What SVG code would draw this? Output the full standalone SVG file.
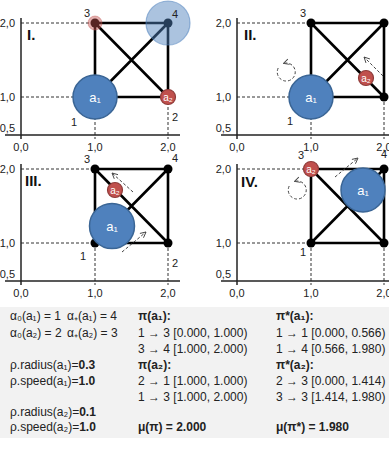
<svg xmlns="http://www.w3.org/2000/svg" width="389" height="449" viewBox="0 0 389 449">
<style>
text{font-family:"Liberation Sans",Arial,sans-serif;fill:#222}
.ax{stroke:#222;stroke-width:1.5;fill:none}
.gd{stroke:#333;stroke-width:1;stroke-dasharray:3,2;fill:none}
.ed{stroke:#000;stroke-width:2.6;fill:none}
.dot{fill:#000}
.tl{font-size:11px}
.nl{font-size:11px}
.rn{font-size:15px;font-weight:bold;fill:#111}
.a1{fill:#4F81BD;stroke:#3A6595;stroke-width:1.5}
.a2{fill:#C0504D;stroke:#8E3B39;stroke-width:1.2}
.at{fill:#fff;text-anchor:middle}
.mv{stroke:#444;stroke-width:1;stroke-dasharray:3,2;fill:none;marker-end:url(#ah)}
.bt{font-size:12px}
.b{font-weight:bold}
</style>
<defs>
<marker id="ah" viewBox="0 0 10 10" refX="9" refY="5" markerWidth="7" markerHeight="7" markerUnits="userSpaceOnUse" orient="auto"><path d="M1,1 L9,5 L1,9" fill="none" stroke="#444" stroke-width="1.3"/></marker>
<g id="base">
<path class="gd" d="M21,23 H95 M21,97 H95 M95,97 V139 M168,97 V139"/>
<line class="ax" x1="21" y1="18" x2="21" y2="139"/>
<line class="ax" x1="5" y1="135" x2="180" y2="135"/>
<text class="tl" x="15" y="27" text-anchor="end">2,0</text>
<text class="tl" x="15" y="101" text-anchor="end">1,0</text>
<text class="tl" x="15" y="132" text-anchor="end">0,5</text>
<text class="tl" x="21" y="151" text-anchor="middle">0,0</text>
<text class="tl" x="95" y="151" text-anchor="middle">1,0</text>
<text class="tl" x="168" y="151" text-anchor="middle">2,0</text>
<path class="ed" d="M95,23 H168 V97 H95 Z M95,23 L168,97 M95,97 L168,23"/>
<circle class="dot" cx="95" cy="23" r="4.5"/>
<circle class="dot" cx="168" cy="23" r="4.5"/>
<circle class="dot" cx="95" cy="97" r="4.5"/>
<circle class="dot" cx="168" cy="97" r="4.5"/>
</g>
</defs>

<rect x="0" y="307" width="389" height="131" fill="#f2f2f2"/>

<g id="panel-I">
<use href="#base"/>
<circle cx="168" cy="23" r="22" fill="#4F81BD" fill-opacity="0.48" stroke="#4F81BD" stroke-opacity="0.55" stroke-width="1.2"/>
<circle cx="95" cy="23" r="7" fill="#C0504D" fill-opacity="0.45" stroke="#C0504D" stroke-opacity="0.4"/>
<circle class="a1" cx="95" cy="97" r="22"/>
<text class="at" x="95" y="101.5" font-size="13">a₁</text>
<circle class="a2" cx="168" cy="97" r="7.5"/>
<text class="at" x="168" y="100.5" font-size="10">a₂</text>
<text class="nl" x="84" y="17">3</text>
<text class="nl" x="172" y="18">4</text>
<text class="nl" x="71" y="126">1</text>
<text class="nl" x="172" y="121">2</text>
<text class="rn" x="27" y="40">I.</text>
</g>

<g id="panel-II" transform="translate(216,0)">
<use href="#base"/>
<circle class="a1" cx="95" cy="97" r="22"/>
<text class="at" x="95" y="101.5" font-size="13">a₁</text>
<circle class="a2" cx="150" cy="78" r="7.5"/>
<text class="at" x="150" y="81.5" font-size="10">a₂</text>
<path class="mv" d="M167,76 L148,57"/>
<path class="mv" d="M62.2,68 A9,9 0 1 0 67.4,63.5"/>
<text class="nl" x="84" y="17">3</text>
<text class="nl" x="71" y="125">1</text>
<text class="rn" x="28" y="40">II.</text>
</g>

<g id="panel-III" transform="translate(0,146)">
<use href="#base"/>
<circle class="a1" cx="112" cy="80" r="22.5"/>
<text class="at" x="112" y="84.5" font-size="13">a₁</text>
<circle class="a2" cx="115" cy="44" r="7.5"/>
<text class="at" x="115" y="47.5" font-size="10">a₂</text>
<path class="mv" d="M133,46 L112,27"/>
<path class="mv" d="M122,106 L146,86"/>
<text class="nl" x="84" y="17">3</text>
<text class="nl" x="172" y="16">4</text>
<text class="nl" x="80" y="114">1</text>
<text class="nl" x="172" y="121">2</text>
<text class="rn" x="25" y="40">III.</text>
</g>

<g id="panel-IV" transform="translate(216,146)">
<use href="#base"/>
<circle class="a1" cx="147" cy="44" r="22"/>
<text class="at" x="147" y="48.5" font-size="13">a₁</text>
<circle class="a2" cx="95" cy="23" r="7.5"/>
<text class="at" x="95" y="26.5" font-size="10">a₂</text>
<path class="mv" d="M119,31 L142,12"/>
<path class="mv" d="M73.2,40 A9,9 0 1 0 78.4,35.5"/>
<text class="nl" x="82" y="13">3</text>
<text class="nl" x="165" y="12">4</text>
<text class="nl" x="84" y="110">1</text>
<text class="rn" x="25" y="41">IV.</text>
</g>

<g id="legend">
<text class="bt" x="10" y="320">α₀(a₁) = 1</text>
<text class="bt" x="67" y="320">α₊(a₁) = 4</text>
<text class="bt" x="10" y="337">α₀(a₂) = 2</text>
<text class="bt" x="67" y="337">α₊(a₂) = 3</text>
<text class="bt" x="10" y="369">ρ.radius(a₁)=<tspan class="b">0.3</tspan></text>
<text class="bt" x="10" y="385">ρ.speed(a₁)=<tspan class="b">1.0</tspan></text>
<text class="bt" x="10" y="416">ρ.radius(a₂)=<tspan class="b">0.1</tspan></text>
<text class="bt" x="10" y="431">ρ.speed(a₂)=<tspan class="b">1.0</tspan></text>

<text class="bt b" x="138" y="320">π(a₁):</text>
<text class="bt" x="138" y="337">1 → 3 [0.000, 1.000)</text>
<text class="bt" x="138" y="353">3 → 4 [1.000, 2.000)</text>
<text class="bt b" x="138" y="369">π(a₂):</text>
<text class="bt" x="138" y="385">2 → 1 [1.000, 1.000)</text>
<text class="bt" x="138" y="401">1 → 3 [1.000, 2.000)</text>
<text class="bt b" x="138" y="431">μ(π) = 2.000</text>

<text class="bt b" x="276" y="320">π*(a₁):</text>
<text class="bt" x="276" y="337">1 → 1 [0.000, 0.566)</text>
<text class="bt" x="276" y="353">1 → 4 [0.566, 1.980)</text>
<text class="bt b" x="276" y="369">π*(a₂):</text>
<text class="bt" x="276" y="385">2 → 3 [0.000, 1.414)</text>
<text class="bt" x="276" y="401">3 → 3 [1.414, 1.980)</text>
<text class="bt b" x="276" y="431">μ(π*) = 1.980</text>
</g>
</svg>
